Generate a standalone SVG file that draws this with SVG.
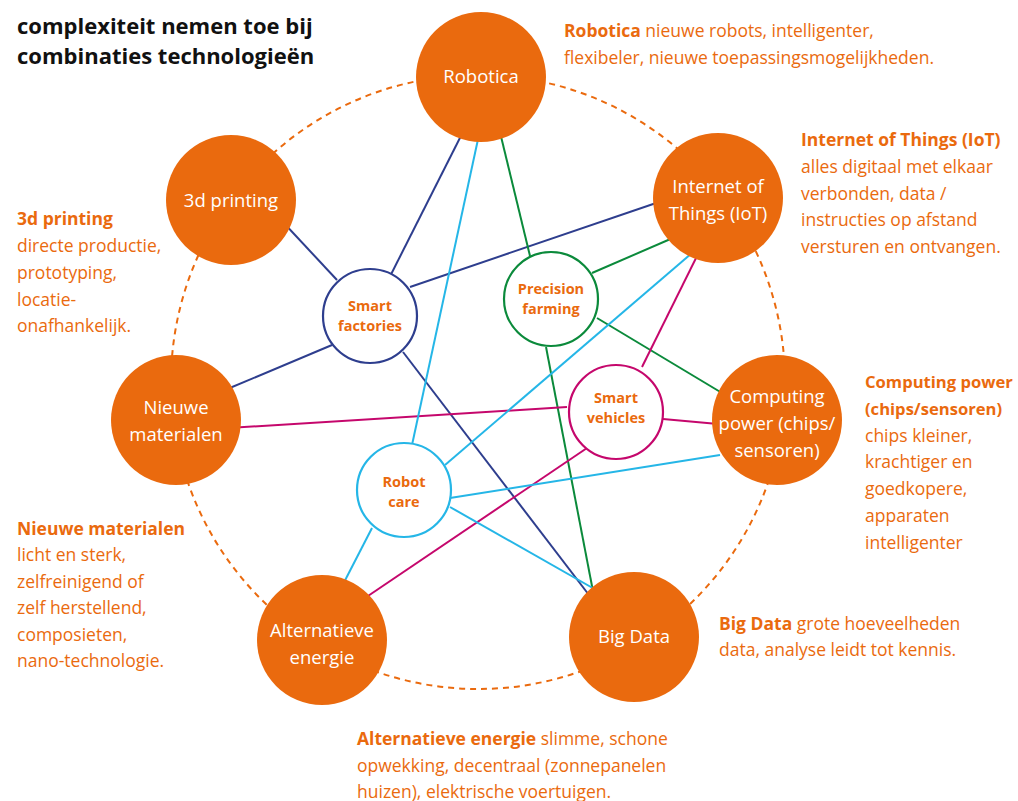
<svg xmlns="http://www.w3.org/2000/svg" width="1018" height="801" viewBox="0 0 1018 801">
<style>
.big{fill:#EA6A0E}
.bl{fill:#fff;font-family:"Open Sans","Liberation Sans",sans-serif;font-size:18.5px;text-anchor:middle}
.sm{fill:#fff;stroke-width:2.2}
.sl{fill:#EA6A0E;font-family:"Open Sans","Liberation Sans",sans-serif;font-size:14.5px;font-weight:bold;text-anchor:middle}
.d{fill:#EA6A0E;font-family:"Open Sans","Liberation Sans",sans-serif;font-size:17.5px}
.b{font-weight:bold}
.cp{font-size:16.6px}
.t{fill:#111;font-family:"Open Sans","Liberation Sans",sans-serif;font-size:22px;font-weight:bold}
.nv{stroke:#2E3E8E}
.gr{stroke:#0B8A3B}
.mg{stroke:#C5076C}
.cy{stroke:#25B6E7}
#connectors line{stroke-width:2;fill:none}
</style>
<text class="t" x="17" y="34">complexiteit nemen toe bij</text>
<text class="t" x="17" y="64">combinaties technologieën</text>
<circle cx="478" cy="382" r="307" fill="none" stroke="#EA6A0E" stroke-width="2" stroke-dasharray="6 5"/>
<g id="connectors">
<line class="nv" x1="370" y1="316" x2="470" y2="118"/>
<line class="nv" x1="410" y1="287" x2="662" y2="201"/>
<line class="nv" x1="332" y1="345" x2="225" y2="390"/>
<line class="nv" x1="403" y1="352" x2="602" y2="612"/>
<line class="nv" x1="337" y1="280" x2="268" y2="206"/>
<line class="gr" x1="497" y1="120" x2="530" y2="256"/>
<line class="gr" x1="592" y1="273" x2="682" y2="234"/>
<line class="gr" x1="597" y1="318" x2="732" y2="399"/>
<line class="gr" x1="546" y1="347" x2="597" y2="612"/>
<line class="mg" x1="642" y1="367" x2="702" y2="246"/>
<line class="mg" x1="567" y1="407" x2="228" y2="428"/>
<line class="mg" x1="663" y1="419" x2="718" y2="424"/>
<line class="mg" x1="590" y1="446" x2="365" y2="598"/>
<line class="cy" x1="480" y1="130" x2="412" y2="445"/>
<line class="cy" x1="445" y1="465" x2="692" y2="253"/>
<line class="cy" x1="450" y1="498" x2="720" y2="455"/>
<line class="cy" x1="450" y1="507" x2="612" y2="599"/>
<line class="cy" x1="372" y1="528" x2="338" y2="594"/>
</g>
<g id="robotica"><circle class="big" cx="481" cy="77" r="65"/><text class="bl" x="481" y="83">Robotica</text></g>
<g id="iot"><circle class="big" cx="718" cy="198" r="65"/><text class="bl" x="718" y="193">Internet of</text><text class="bl" x="718" y="220">Things (IoT)</text></g>
<g id="printing"><circle class="big" cx="231" cy="200" r="65"/><text class="bl" x="231" y="207">3d printing</text></g>
<g id="materialen"><circle class="big" cx="176" cy="420" r="65"/><text class="bl" x="176" y="414">Nieuwe</text><text class="bl" x="176" y="441">materialen</text></g>
<g id="computing"><circle class="big" cx="777" cy="420" r="65"/><text class="bl" x="777" y="403">Computing</text><text class="bl" x="777" y="430">power (chips/</text><text class="bl" x="777" y="457">sensoren)</text></g>
<g id="energie"><circle class="big" cx="322" cy="640" r="65"/><text class="bl" x="322" y="637">Alternatieve</text><text class="bl" x="322" y="664">energie</text></g>
<g id="bigdata"><circle class="big" cx="634" cy="637" r="65"/><text class="bl" x="634" y="643">Big Data</text></g>
<g id="factories"><circle class="sm nv" cx="370" cy="316" r="47"/><text class="sl" x="370" y="311">Smart</text><text class="sl" x="370" y="331">factories</text></g>
<g id="farming"><circle class="sm gr" cx="551" cy="299" r="47"/><text class="sl" x="551" y="294">Precision</text><text class="sl" x="551" y="314">farming</text></g>
<g id="vehicles"><circle class="sm mg" cx="616" cy="412" r="47"/><text class="sl" x="616" y="403">Smart</text><text class="sl" x="616" y="423">vehicles</text></g>
<g id="robotcare"><circle class="sm cy" cx="404" cy="490" r="47"/><text class="sl" x="404" y="487">Robot</text><text class="sl" x="404" y="507">care</text></g>
<text class="d" x="564" y="37"><tspan class="b">Robotica</tspan> nieuwe robots, intelligenter,</text>
<text class="d" x="564" y="64">flexibeler, nieuwe toepassingsmogelijkheden.</text>
<text class="d"><tspan class="b" x="801" y="146">Internet of Things (IoT)</tspan><tspan x="801" y="173">alles digitaal met elkaar</tspan><tspan x="801" y="200">verbonden, data /</tspan><tspan x="801" y="226">instructies op afstand</tspan><tspan x="801" y="253">versturen en ontvangen.</tspan></text>
<text class="d"><tspan class="b" x="17" y="225">3d printing</tspan><tspan x="17" y="252">directe productie,</tspan><tspan x="17" y="279">prototyping,</tspan><tspan x="17" y="306">locatie-</tspan><tspan x="17" y="332">onafhankelijk.</tspan></text>
<text class="d b cp" x="865" y="388">Computing power</text>
<text class="d b cp" x="865" y="415">(chips/sensoren)</text>
<text class="d"><tspan x="865" y="442">chips kleiner,</tspan><tspan x="865" y="468">krachtiger en</tspan><tspan x="865" y="495">goedkopere,</tspan><tspan x="865" y="522">apparaten</tspan><tspan x="865" y="549">intelligenter</tspan></text>
<text class="d"><tspan class="b" x="17" y="535">Nieuwe materialen</tspan><tspan x="17" y="561">licht en sterk,</tspan><tspan x="17" y="588">zelfreinigend of</tspan><tspan x="17" y="614">zelf herstellend,</tspan><tspan x="17" y="641">composieten,</tspan><tspan x="17" y="667">nano-technologie.</tspan></text>
<text class="d" x="719" y="630"><tspan class="b">Big Data</tspan> grote hoeveelheden</text>
<text class="d" x="719" y="656">data, analyse leidt tot kennis.</text>
<text class="d" x="357" y="745"><tspan class="b">Alternatieve energie</tspan> slimme, schone</text>
<text class="d" x="357" y="772">opwekking, decentraal (zonnepanelen</text>
<text class="d" x="357" y="798">huizen), elektrische voertuigen.</text>
</svg>
